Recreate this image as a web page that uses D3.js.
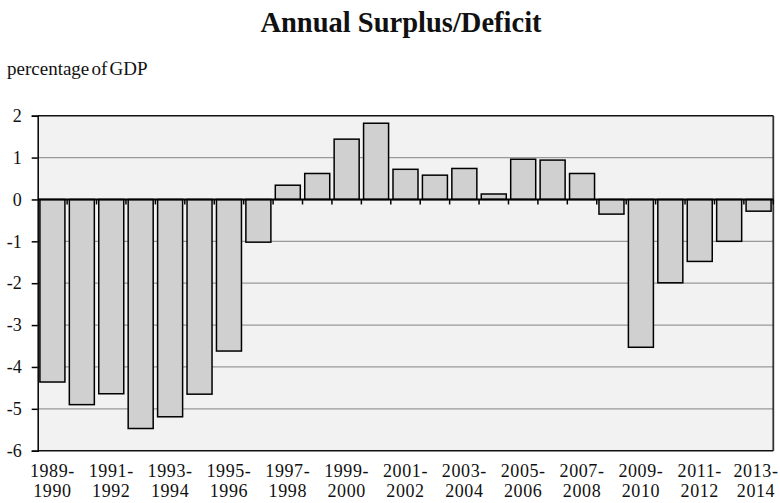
<!DOCTYPE html>
<html>
<head>
<meta charset="utf-8">
<script src="https://cdn.jsdelivr.net/npm/d3@7"></script>
<style>
  html, body { margin: 0; padding: 0; background: #fff; }
  svg { display: block; }
  text { font-family: "Liberation Serif", "Times New Roman", "DejaVu Serif", serif; fill: #111; }
</style>
</head>
<body>
<svg id="chart" width="780" height="503"></svg>
<script>
const categories = ["1989-1990","1990-1991","1991-1992","1992-1993","1993-1994","1994-1995","1995-1996","1996-1997","1997-1998","1998-1999","1999-2000","2000-2001","2001-2002","2002-2003","2003-2004","2004-2005","2005-2006","2006-2007","2007-2008","2008-2009","2009-2010","2010-2011","2011-2012","2012-2013","2013-2014"];
const values = [-4.36,-4.90,-4.64,-5.47,-5.19,-4.65,-3.62,-1.02,0.34,0.62,1.44,1.82,0.72,0.58,0.74,0.13,0.96,0.94,0.62,-0.35,-3.53,-1.99,-1.48,-1.00,-0.28];
const yTicks = [-6,-5,-4,-3,-2,-1,0,1,2];
const labeledCategories = categories.filter((d, i) => i % 2 === 0);
const titleText = "Annual Surplus/Deficit";
const yAxisTitle = "percentage of GDP";

const svg = d3.select("#chart");
const pLeft = 37.7, pRight = 773.3, pTop = 115.7, pBottom = 450.7;

const x = d3.scaleBand().domain(categories).range([pLeft, pRight]).paddingInner(0.15).paddingOuter(0.075);
const xb = d3.scaleBand().domain(categories).range([pLeft, pRight]);
const y = d3.scaleLinear().domain([-6, 2]).range([pBottom, pTop]);

// plot background
svg.append("rect").attr("x", pLeft).attr("y", pTop).attr("width", pRight - pLeft).attr("height", pBottom - pTop)
  .attr("fill", "#f2f2f2");

// gridlines
svg.append("g").selectAll("line").data(yTicks.filter(d => d !== 0 && d !== -6 && d !== 2)).join("line")
  .attr("x1", pLeft).attr("x2", pRight).attr("y1", d => y(d)).attr("y2", d => y(d))
  .attr("stroke", "#999").attr("stroke-width", 1.2);

// bars
svg.append("g").selectAll("rect").data(values).join("rect")
  .attr("x", (d, i) => x(categories[i]))
  .attr("width", x.bandwidth())
  .attr("y", d => y(Math.max(0, d)))
  .attr("height", d => Math.abs(y(d) - y(0)))
  .attr("fill", "#d0d0d0").attr("stroke", "#000").attr("stroke-width", 1.5);

// border (top, right, bottom)
svg.append("line").attr("x1", pLeft).attr("x2", pRight).attr("y1", pTop).attr("y2", pTop).attr("stroke", "#111").attr("stroke-width", 1.5);
svg.append("line").attr("x1", pRight).attr("x2", pRight).attr("y1", pTop).attr("y2", pBottom).attr("stroke", "#333").attr("stroke-width", 1.8);
svg.append("line").attr("x1", pLeft).attr("x2", pRight).attr("y1", pBottom).attr("y2", pBottom).attr("stroke", "#111").attr("stroke-width", 1.5);

// x axis at zero with ticks at band boundaries
const boundaries = categories.slice(1).map(c => xb(c)).concat([pRight]);
svg.append("g").selectAll("line").data(boundaries).join("line")
  .attr("x1", d => d).attr("x2", d => d).attr("y1", y(0)).attr("y2", y(0) + 5)
  .attr("stroke", "#000").attr("stroke-width", 1.5);
svg.append("line").attr("x1", pLeft).attr("x2", pRight).attr("y1", y(0)).attr("y2", y(0))
  .attr("stroke", "#000").attr("stroke-width", 2);

// y axis
const yAxis = d3.axisLeft(y).tickValues(yTicks).tickSize(6).tickPadding(10).tickFormat(d3.format("d"));
const ya = svg.append("g").attr("transform", `translate(${pLeft},0)`).call(yAxis);
ya.attr("font-family", null);
ya.select(".domain").attr("stroke", "#000").attr("stroke-width", 1.5);
ya.selectAll(".tick line").attr("stroke", "#000").attr("stroke-width", 1.5);
ya.selectAll(".tick text").attr("font-size", 18).attr("fill", "#111")
  .text(d => d < 0 ? "-" + Math.abs(d) : d);

// x labels (two lines)
const xl = svg.append("g").selectAll("text").data(labeledCategories).join("text")
  .attr("text-anchor", "middle").attr("font-size", 18).attr("letter-spacing", 0.6);
xl.append("tspan").attr("x", 0).attr("y", 477).text(d => d.split("-")[0] + "-");
xl.append("tspan").attr("x", 0).attr("y", 497).text(d => d.split("-")[1]);
xl.attr("transform", function(d) {
  const c = xb(d) + xb.bandwidth() / 2;
  const bb = this.getBBox();
  const shift = Math.min(0, 778.5 - (c + bb.x + bb.width));
  return `translate(${c + shift},0)`;
});

// title
svg.append("text").attr("x", 401).attr("y", 32).attr("text-anchor", "middle")
  .attr("font-size", 28.5).attr("font-weight", "bold").text(titleText);

// y axis title
svg.append("text").attr("x", 7).attr("y", 75).attr("font-size", 19).attr("word-spacing", -2.5)
  .text(yAxisTitle);
</script>
</body>
</html>
